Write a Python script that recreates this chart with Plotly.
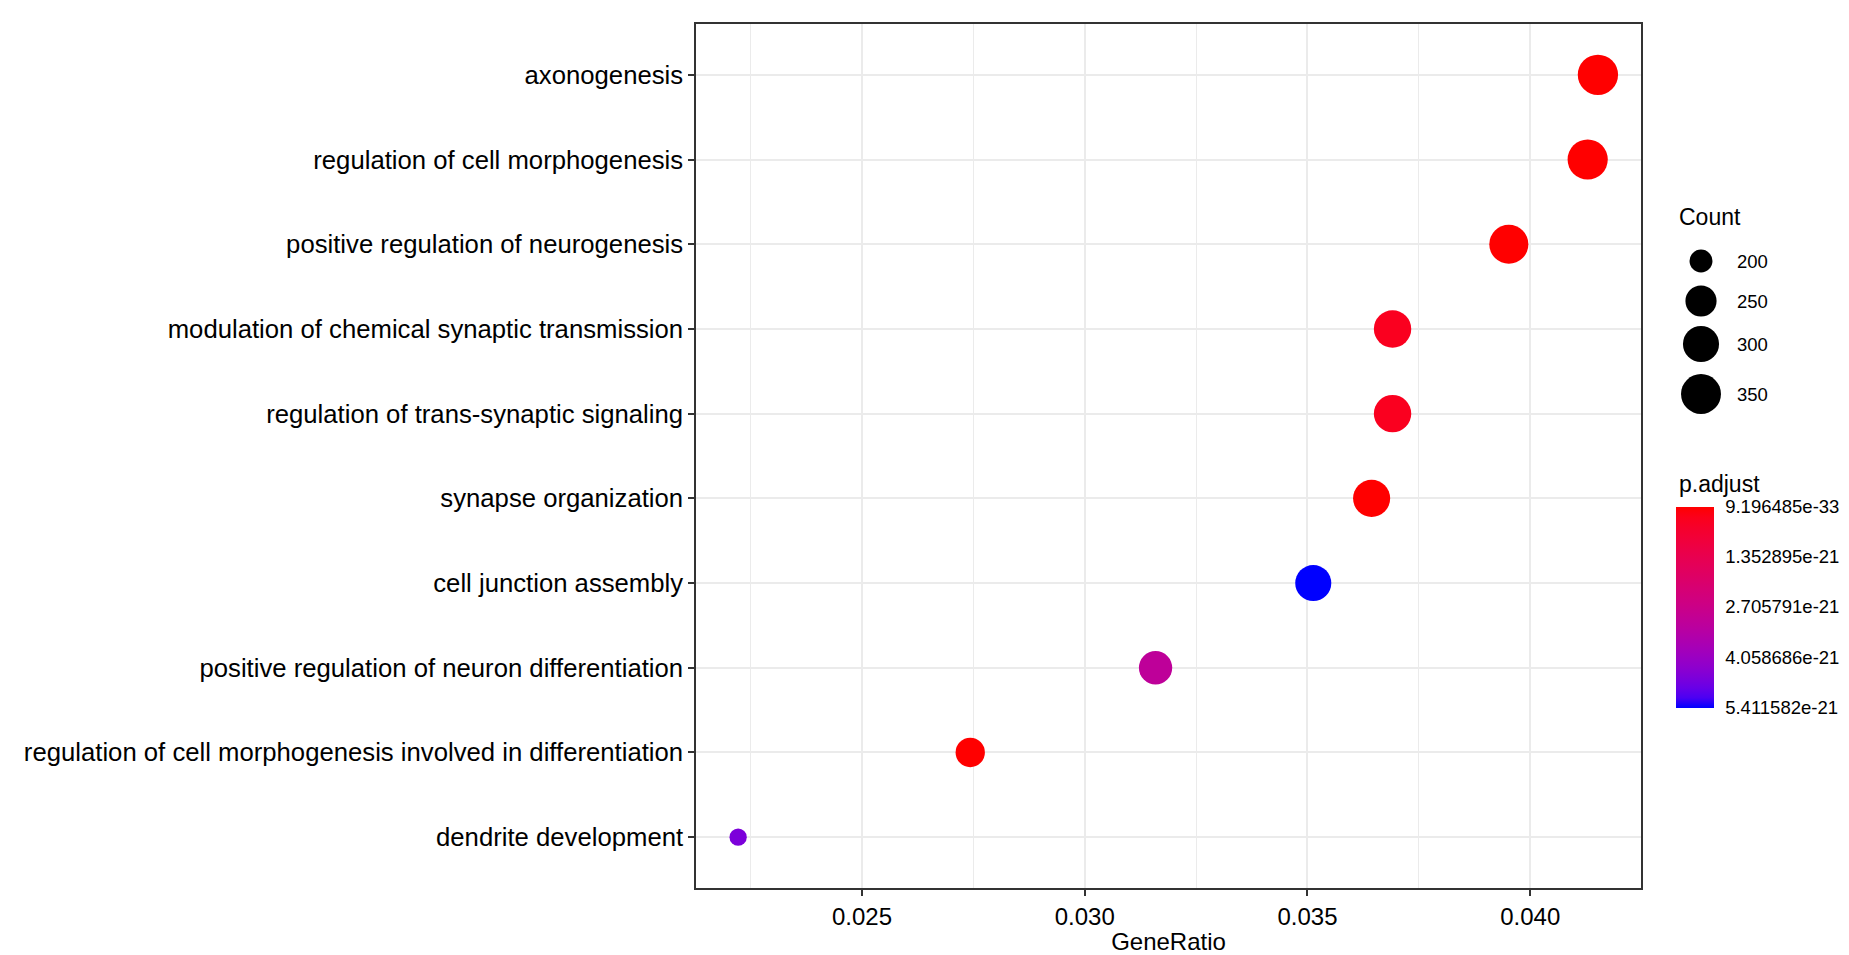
import plotly.graph_objects as go
import numpy as np

# GO terms, top to bottom as shown
terms = [
    "axonogenesis",
    "regulation of cell morphogenesis",
    "positive regulation of neurogenesis",
    "modulation of chemical synaptic transmission",
    "regulation of trans-synaptic signaling",
    "synapse organization",
    "cell junction assembly",
    "positive regulation of neuron differentiation",
    "regulation of cell morphogenesis involved in differentiation",
    "dendrite development",
]
gene_ratio = [0.04152, 0.04129, 0.03952, 0.03691, 0.03691, 0.03644, 0.03513, 0.03159, 0.02743, 0.02222]
counts = [355, 353, 338, 316, 316, 312, 300, 270, 235, 190]
p_adjust = [9.196485e-33, 2.0e-30, 5.0e-29, 3.5e-22, 3.5e-22, 1.0e-26, 5.411582e-21, 3.1e-21, 8.0e-28, 4.6e-21]

x_ticks = [0.025, 0.030, 0.035, 0.040]
x_ticktext = ["0.025", "0.030", "0.035", "0.040"]
count_breaks = [200, 250, 300, 350]
p_breaks = [9.196485e-33, 1.352895e-21, 2.705791e-21, 4.058686e-21, 5.411582e-21]
p_breaktext = ["9.196485e-33", "1.352895e-21", "2.705791e-21", "4.058686e-21", "5.411582e-21"]

FONT = "Liberation Sans, Arial, Helvetica, sans-serif"


# size scale (area-like, as ggplot's scale_size)
def size_px(c):
    c = np.asarray(c, dtype=float)
    lo, hi = min(counts), max(counts)
    return 17.3 + 23.0 * np.sqrt(np.clip((c - lo) / (hi - lo), 0, 1))


# red -> blue gradient interpolated in Lab space
def hex_to_lab(h):
    rgb = np.array([int(h[i:i + 2], 16) / 255 for i in (1, 3, 5)])
    lin = np.where(rgb <= 0.04045, rgb / 12.92, ((rgb + 0.055) / 1.055) ** 2.4)
    m = np.array([[0.4124, 0.3576, 0.1805], [0.2126, 0.7152, 0.0722], [0.0193, 0.1192, 0.9505]])
    xyz = m @ lin / np.array([0.95047, 1.0, 1.08883])
    f = np.where(xyz > 0.008856, np.cbrt(xyz), 7.787 * xyz + 16 / 116)
    return np.array([116 * f[1] - 16, 500 * (f[0] - f[1]), 200 * (f[1] - f[2])])


def lab_to_hex(lab):
    fy = (lab[0] + 16) / 116
    f = np.array([fy + lab[1] / 500, fy, fy - lab[2] / 200])
    xyz = np.where(f ** 3 > 0.008856, f ** 3, (f - 16 / 116) / 7.787) * np.array([0.95047, 1.0, 1.08883])
    m = np.array([[3.2406, -1.5372, -0.4986], [-0.9689, 1.8758, 0.0415], [0.0557, -0.2040, 1.0570]])
    lin = np.clip(m @ xyz, 0, 1)
    rgb = np.where(lin <= 0.0031308, 12.92 * lin, 1.055 * lin ** (1 / 2.4) - 0.055)
    return "#" + "".join(f"{int(round(v * 255)):02x}" for v in np.clip(rgb, 0, 1))


lab_blue, lab_red = hex_to_lab("#0000ff"), hex_to_lab("#ff0000")
colorscale = [[t, lab_to_hex(lab_blue * (1 - t) + lab_red * t)] for t in np.linspace(0, 1, 21)]

# colour uses -p so that the smallest p.adjust sits on top of the colour bar
neg_p = [-p for p in p_adjust]

# page has an 8px body margin; work in figure pixels
OFF = 8
W, H = 1849 - OFF, 955 - OFF
L, T = 696 - OFF, 24 - OFF
panel_right = 1641 - OFF
panel_bottom = 888 - OFF
B = H - panel_bottom
dom_end = (panel_right - L) / (W - L)

fig = go.Figure()

fig.add_trace(go.Scatter(
    x=gene_ratio, y=terms, mode="markers",
    marker=dict(
        size=size_px(counts), color=neg_p, coloraxis="coloraxis",
        line=dict(width=0), opacity=1,
    ),
    showlegend=False, hoverinfo="x+y",
))

# Count legend drawn on an overlay axis (figure pixel units)
leg_x = 1701 - OFF
leg_y = [261 - OFF, 301 - OFF, 344 - OFF, 394 - OFF]
fig.add_trace(go.Scatter(
    x=[leg_x] * len(count_breaks), y=leg_y, mode="markers",
    marker=dict(size=size_px(count_breaks), color="#000000", opacity=1, line=dict(width=0)),
    xaxis="x2", yaxis="y2", showlegend=False, hoverinfo="skip",
))

annotations = [
    dict(x=1677 - OFF, y=217 - OFF, text="Count", showarrow=False, xanchor="left", yanchor="middle",
         xref="x2", yref="y2", font=dict(size=23, color="black")),
    dict(x=1677 - OFF, y=484 - OFF, text="p.adjust", showarrow=False, xanchor="left", yanchor="middle",
         xref="x2", yref="y2", font=dict(size=23, color="black")),
]
for b, yy in zip(count_breaks, leg_y):
    annotations.append(dict(x=1735 - OFF, y=yy, text=str(b), showarrow=False, xanchor="left",
                            yanchor="middle", xref="x2", yref="y2",
                            font=dict(size=18.5, color="black")))

fig.update_layout(
    width=W, height=H,
    margin=dict(l=L, r=0, t=T, b=B),
    paper_bgcolor="white", plot_bgcolor="white",
    font=dict(family=FONT, color="black"),
    annotations=annotations,
    coloraxis=dict(
        cmin=-max(p_adjust), cmax=-min(p_adjust), colorscale=colorscale,
        colorbar=dict(
            x=(1676 - OFF - L) / (W - L), xanchor="left", xpad=0,
            y=(panel_bottom - (607 - OFF)) / (H - T - B), yanchor="middle", ypad=0,
            lenmode="pixels", len=201, thickness=38, outlinewidth=0,
            tickvals=[-p for p in p_breaks], ticktext=p_breaktext,
            ticks="outside", ticklen=8, tickcolor="rgba(0,0,0,0)",
            tickfont=dict(size=18.5, color="black"),
        ),
    ),
    xaxis=dict(
        domain=[0, dom_end], range=[0.021274, 0.042487],
        tickvals=x_ticks, ticktext=x_ticktext,
        tickfont=dict(size=24, color="black"),
        ticks="outside", ticklen=6, tickcolor="#333333", tickwidth=1.5,
        showgrid=True, gridcolor="#EBEBEB", gridwidth=1.5,
        minor=dict(dtick=0.0025, tick0=0.0225, showgrid=True, gridcolor="#EBEBEB", gridwidth=0.8, ticks=""),
        showline=True, mirror=True, linecolor="#333333", linewidth=1.5,
        zeroline=False,
        title=dict(text="GeneRatio", font=dict(size=24, color="black"), standoff=4),
    ),
    yaxis=dict(
        type="category", categoryorder="array", categoryarray=terms[::-1],
        range=[-0.6, len(terms) - 0.4],
        tickfont=dict(size=25.7, color="black"),
        ticks="outside", ticklen=6, tickcolor="#333333", tickwidth=1.5,
        showgrid=True, gridcolor="#EBEBEB", gridwidth=1.5,
        showline=True, mirror=True, linecolor="#333333", linewidth=1.5,
        zeroline=False,
    ),
    xaxis2=dict(domain=[dom_end, 1], range=[panel_right, W], visible=False, fixedrange=True),
    yaxis2=dict(domain=[0, 1], range=[panel_bottom, T], visible=False, fixedrange=True, anchor="x2"),
)

fig.write_html("out.html")
